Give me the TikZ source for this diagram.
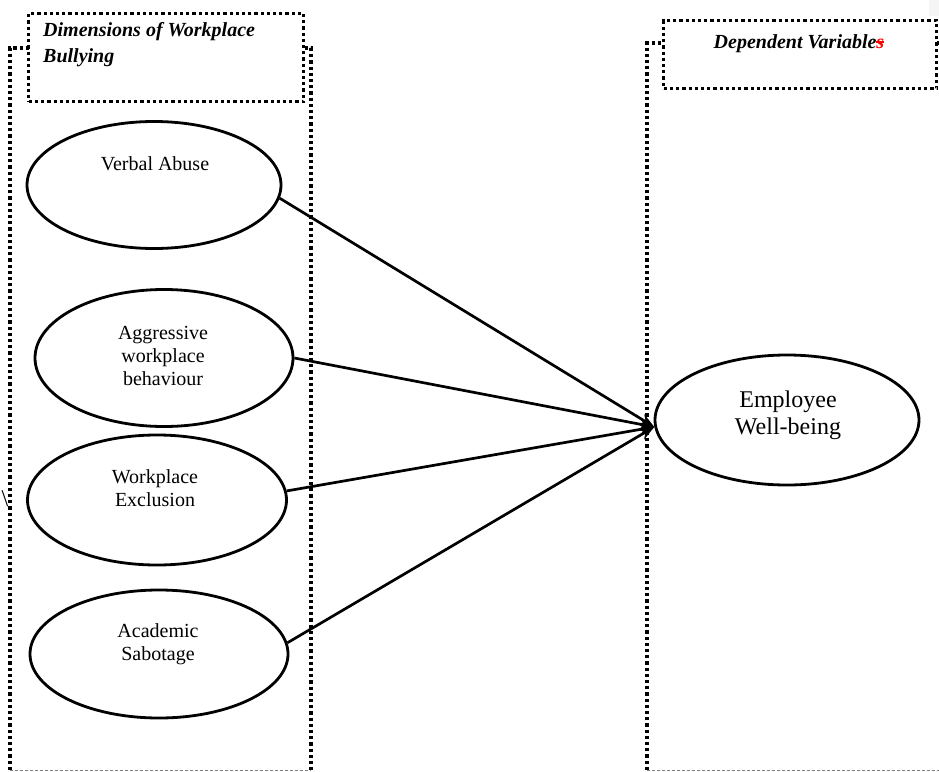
\documentclass[tikz,border=0pt]{standalone}
\usepackage{fontspec}
\setmainfont{Liberation Serif}
\usetikzlibrary{shapes.geometric,arrows.meta}
\newcommand\redstrike[1]{\textcolor{red}{\rlap{#1}\rule[0.27em]{0.39em}{0.06em}}}
\begin{document}
\begin{tikzpicture}[x=1pt,y=-1pt,
  dotline/.style={line width=3.4pt, dash pattern=on 3.2pt off 3pt, black},
  botline/.style={line width=0.9pt, dash pattern=on 3pt off 2pt, gray},
  hdrbox/.style={draw, dotline, fill=white, anchor=north west, inner sep=0pt},
  ell/.style={draw, ellipse, line width=2.8pt, inner sep=0pt, fill=white},
  txt/.style={font=\fontsize{20}{23}\selectfont, inner sep=0pt, anchor=base},
  bigtxt/.style={font=\fontsize{24}{27}\selectfont, inner sep=0pt, anchor=base},
  hd/.style={font=\fontsize{20}{25}\selectfont\bfseries\itshape, inner sep=0pt},
  arr/.style={line width=2.7pt, -{Stealth[length=15pt,width=11pt]}}
]
\useasboundingbox (0,0) rectangle (939,771);
\clip (0,0) rectangle (939,771);
\fill[gray!8] (929,0) rectangle (939,16);

% big frames
\draw[dotline] (10,770) -- (10,48) -- (311,48) -- (311,770);
\draw[botline] (10,770) -- (311,770);
\draw[dotline] (647,770) -- (647,43) -- (950,43);
\draw[botline] (647,770) -- (950,770);

% header boxes
\node[hdrbox, minimum width=275pt, minimum height=88pt] (lhead) at (27,12) {};
\node[hdrbox, minimum width=273pt, minimum height=68pt] (rhead) at (662,19) {};
\node[hd, anchor=base west] (h1) at (43,36) {Dimensions of Workplace};
\node[hd, anchor=base west] (h2) at (43,62) {Bullying};
\node[hd, anchor=base] (h3) at (799,48) {Dependent Variable\redstrike{s}};

% ellipses
\node[ell, minimum width=254pt, minimum height=127pt] (va) at (154,185) {};
\node[ell, minimum width=258pt, minimum height=137pt] (ag) at (164,358) {};
\node[ell, minimum width=259pt, minimum height=130pt] (we) at (157,500) {};
\node[ell, minimum width=258pt, minimum height=128pt] (as) at (159,654) {};
\node[ell, minimum width=264pt, minimum height=130pt] (emp) at (787,420) {};

% ellipse texts
\node[txt] (t1) at (155,170) {Verbal Abuse};
\node[txt] (t2a) at (163,339) {Aggressive};
\node[txt] (t2b) at (163,362) {workplace};
\node[txt] (t2c) at (163,385) {behaviour};
\node[txt] (t3a) at (155,483) {Workplace};
\node[txt] (t3b) at (155,506) {Exclusion};
\node[txt] (t4a) at (158,637) {Academic};
\node[txt] (t4b) at (158,660) {Sabotage};
\node[bigtxt] (t5a) at (788,407) {Employee};
\node[bigtxt] (t5b) at (788,434) {Well-being};

\node[font=\fontsize{24}{24}\selectfont, inner sep=0pt] (bs) at (5,499) {\textbackslash};

% arrows
\draw[arr] (va.-6) -- (emp.183);
\draw[arr] (ag.east) -- (emp.183);
\draw[arr] (we.4) -- (emp.183);
\draw[arr] (as.5) -- (emp.183);
\end{tikzpicture}
\end{document}
